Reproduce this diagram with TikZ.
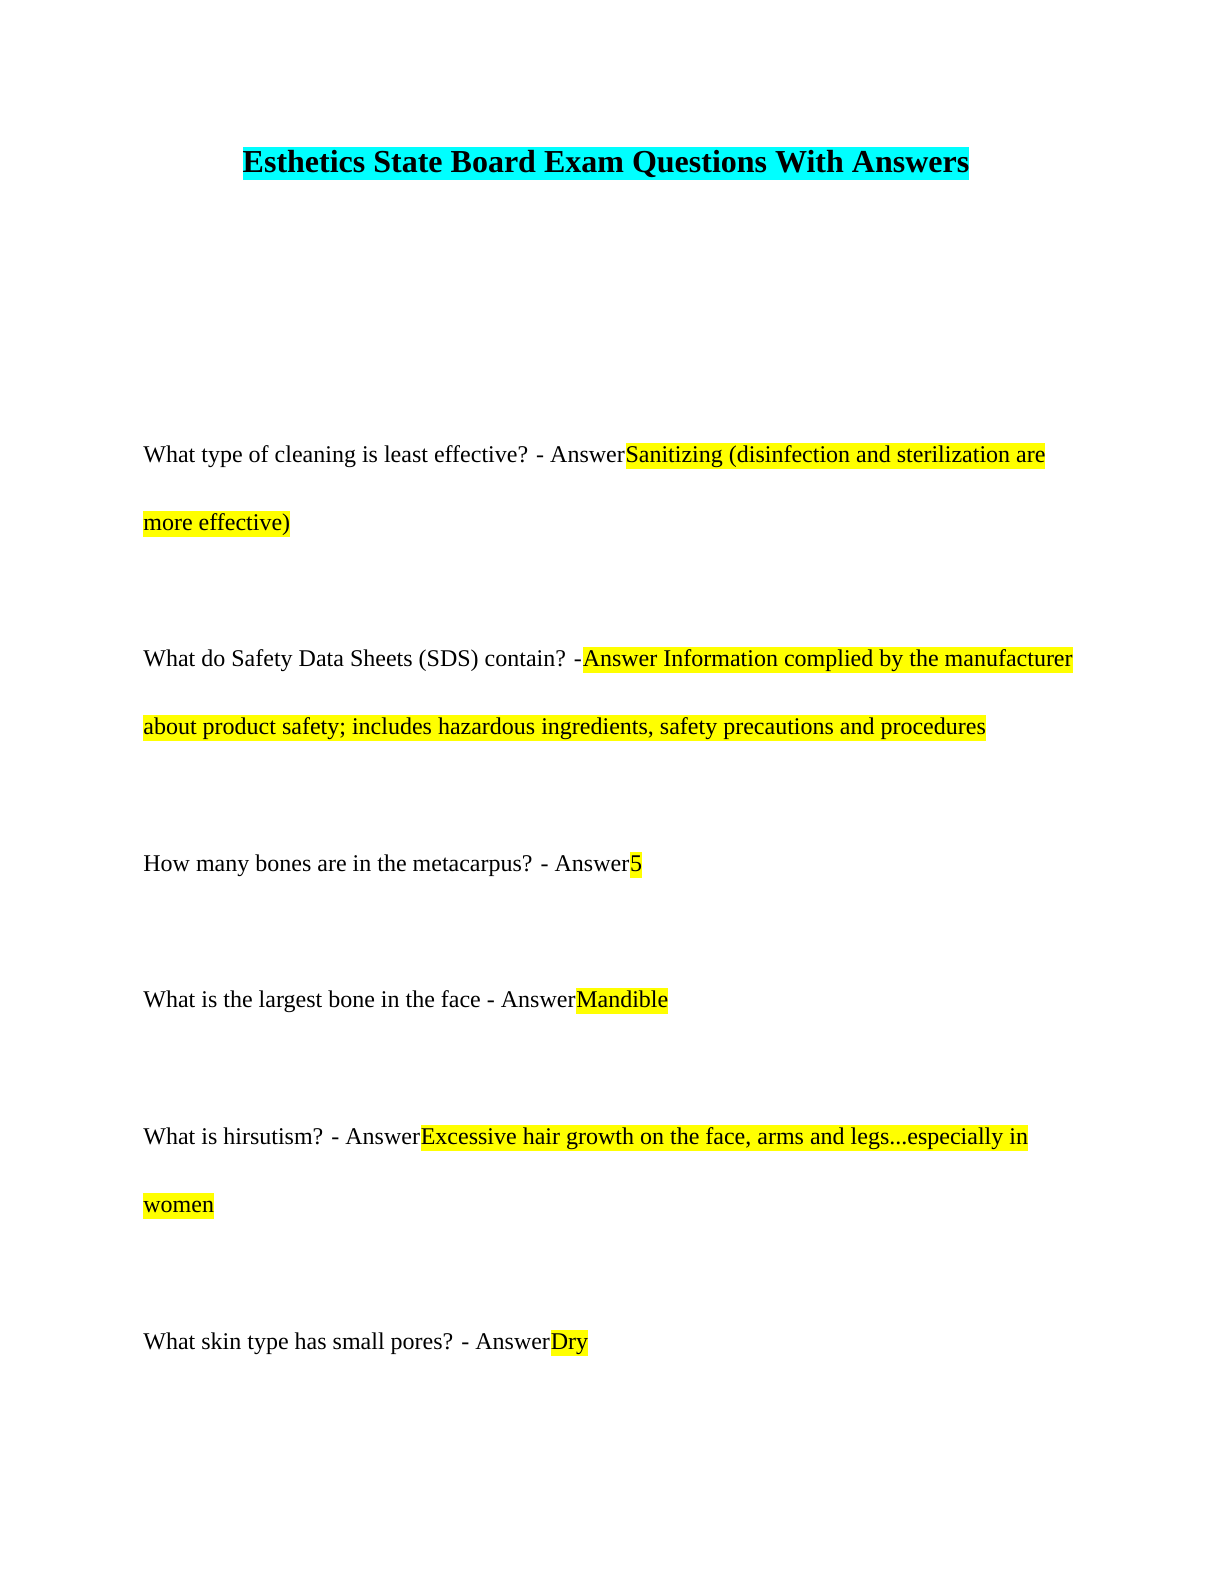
\documentclass[tikz,border=0pt]{standalone}
\usepackage{fontspec}
\setmainfont{Liberation Serif}
\usetikzlibrary{positioning}
\definecolor{hlyellow}{RGB}{255,255,0}
\definecolor{hlcyan}{RGB}{0,255,255}
\tikzset{
  qtext/.style={anchor=base west, inner sep=0pt, font=\fontsize{12pt}{14pt}\selectfont},
  atext/.style={qtext, fill=hlyellow, text height=9.6pt, text depth=3.4pt},
}
\begin{document}
\begin{tikzpicture}[x=0.5pt, y=-0.5pt]
    \useasboundingbox [fill=white] (0, 0) rectangle (1224, 1584);

    % Title
    \node [anchor=base, inner sep=0pt, fill=hlcyan, text height=12.5pt, text depth=4pt,
      font=\fontsize{16pt}{18pt}\selectfont\bfseries] (title) at (606, 172)
      {Esthetics State Board Exam Questions With Answers};

    % Question 1
    \node [qtext] (q1) at (143, 462) {What type of cleaning is least effective? - Answer\ };
    \node [atext] (a1) at (q1.base east) {Sanitizing (disinfection and sterilization are};
    \node [atext] (a1b) at (143, 530) {more effective)};

    % Question 2
    \node [qtext] (q2) at (143, 666) {What do Safety Data Sheets (SDS) contain? -\ };
    \node [atext] (a2) at (q2.base east) {Answer Information complied by the manufacturer};
    \node [atext] (a2b) at (143, 734) {about product safety; includes hazardous ingredients, safety precautions and procedures};

    % Question 3
    \node [qtext] (q3) at (143, 871) {How many bones are in the metacarpus? - Answer\ };
    \node [atext] (a3) at (q3.base east) {5};

    % Question 4
    \node [qtext] (q4) at (143, 1007) {What is the largest bone in the face - Answer\ };
    \node [atext] (a4) at (q4.base east) {Mandible};

    % Question 5
    \node [qtext] (q5) at (143, 1144) {What is hirsutism? - Answer\ };
    \node [atext] (a5) at (q5.base east) {Excessive hair growth on the face, arms and legs...especially in};
    \node [atext] (a5b) at (143, 1212) {women};

    % Question 6
    \node [qtext] (q6) at (143, 1349) {What skin type has small pores? - Answer\ };
    \node [atext] (a6) at (q6.base east) {Dry};
\end{tikzpicture}
\end{document}
